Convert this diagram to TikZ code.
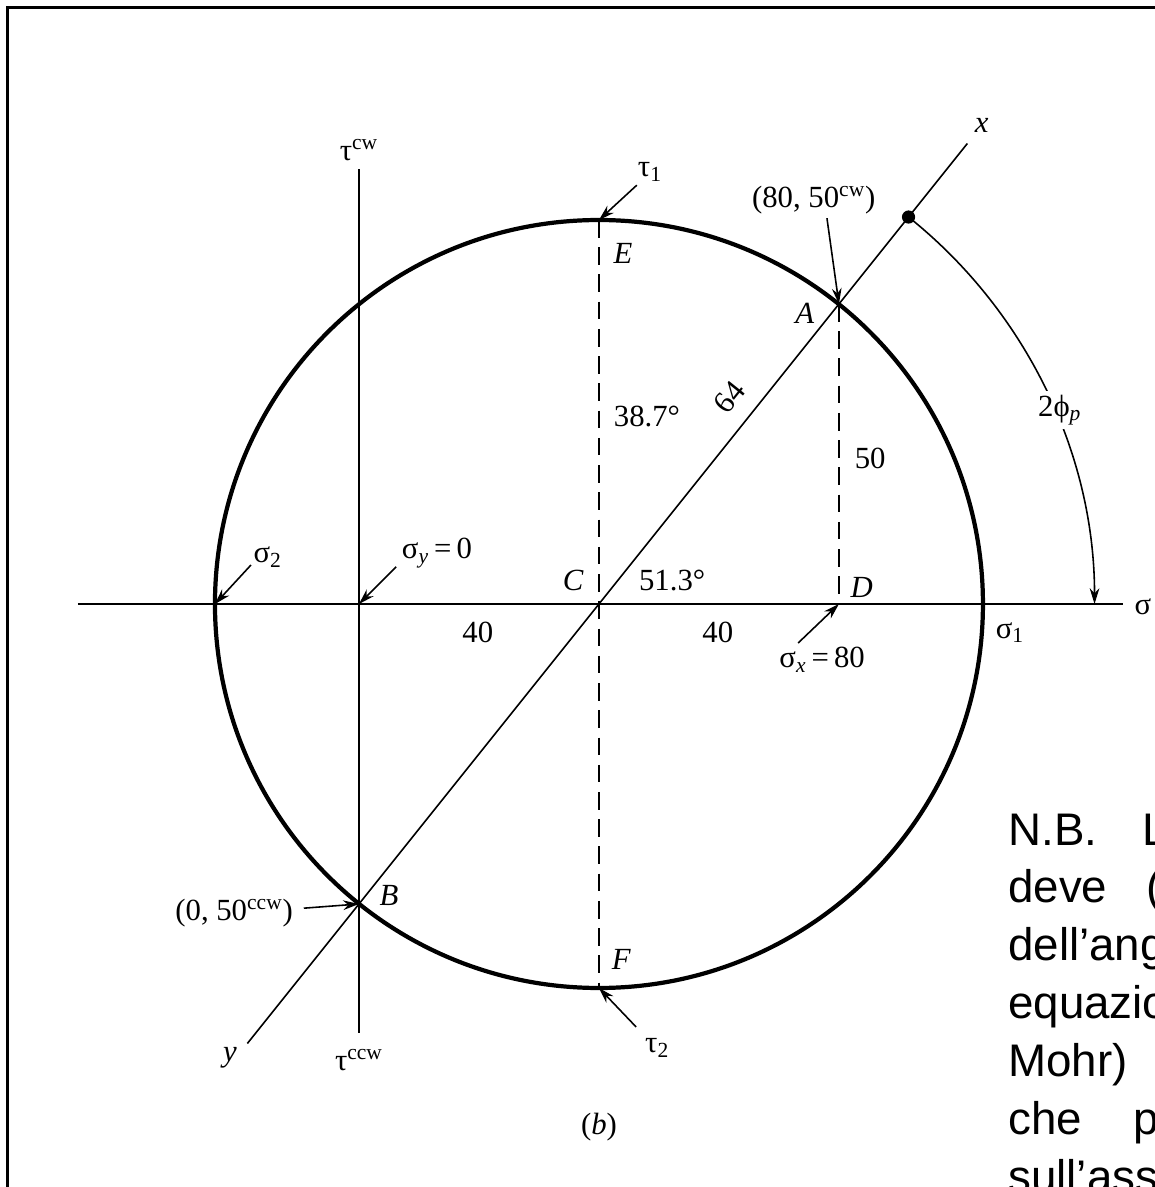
\documentclass[tikz,border=0pt]{standalone}
\usepackage{fontspec}
\setmainfont{Liberation Serif}
\newfontfamily\notefont{Liberation Sans}
\usetikzlibrary{arrows.meta}
\newcommand{\mohrsize}{\fontsize{17.5}{20}\selectfont}
\newcommand{\notesize}{\notefont\fontsize{26}{31}\selectfont}

\begin{document}
\begin{tikzpicture}[x=0.12cm, y=0.12cm,
  axis/.style={line width=0.9pt},
  mohr/.style={line width=2.4pt},
  guide/.style={line width=0.9pt, dash pattern=on 10pt off 5.5pt},
  pointer/.style={-{Stealth[length=9pt, width=5.5pt]}, line width=0.9pt},
  lbl/.style={font=\mohrsize, inner sep=1pt},
  ptlbl/.style={font=\mohrsize\itshape, inner sep=1pt},
  note/.style={font=\notesize, anchor=base west, inner sep=0pt}
]
\useasboundingbox (-99.83,-97.17) rectangle (92.67,100.67);
\clip (-99.83,-97.17) rectangle (92.67,100.67);

% frame
\draw[line width=1.7pt] (-98.58,-99) |- (94,99.42);

% points
\coordinate (C) at (0,0);
\coordinate (A) at (40,50);
\coordinate (B) at (-40,-50);
\coordinate (D) at (40,0);
\coordinate (E) at (0,64);
\coordinate (F) at (0,-64);
\coordinate (S2) at (-64,0);
\coordinate (Sy) at (-40,0);
\coordinate (P) at (51.34:82.6);
\coordinate (sigL) at (-86.83,0);
\coordinate (sigR) at (87.33,0);
\coordinate (tauT) at (-40,72.5);
\coordinate (tauB) at (-40,-71.5);
\coordinate (xend) at (61.4,76.75);
\coordinate (yend) at (-58.6,-73.25);

% axes, circle, construction lines
\draw[axis] (sigL) -- (sigR);
\draw[axis] (tauT) -- (tauB);
\draw[axis] (yend) -- (xend);
\draw[mohr] (C) circle[radius=64];
\draw[guide] (E) -- (F);
\draw[guide] (A) -- (D);
\fill (P) circle[radius=1.1];
\draw[pointer] (P) arc[start angle=51.34, end angle=0, radius=82.6];

% labels
\node[lbl] (sig) at (90.67,-0.5) {σ};
\node[lbl] (taucw) at (-40,75.7) {τ\textsuperscript{cw}};
\node[lbl] (tauccw) at (-40,-76) {τ\textsuperscript{ccw}};
\node[ptlbl] (xlbl) at (63.8,79.8) {x};
\node[ptlbl] (ylbl) at (-61.5,-75.7) {y};
\node[lbl, fill=white, inner sep=2pt] (phi) at (76.8,32.3) {2ϕ\textsubscript{\itshape p}};
\node[lbl] (tau1) at (8.5,72) {τ\textsubscript{1}};
\node[lbl] (tau2) at (9.7,-74) {τ\textsubscript{2}};
\node[ptlbl] (Elbl) at (4,58.5) {E};
\node[ptlbl] (Flbl) at (3.7,-59.3) {F};
\node[ptlbl] (Albl) at (34.3,48.5) {A};
\node[ptlbl] (Blbl) at (-35,-48.5) {B};
\node[ptlbl] (Clbl) at (-4.3,4) {C};
\node[ptlbl] (Dlbl) at (43.8,2.8) {D};
\node[lbl] (ptA) at (35.8,67.3) {(80, 50\textsuperscript{cw})};
\node[lbl] (ptB) at (-60.8,-51.5) {(0, 50\textsuperscript{ccw})};
\node[lbl, rotate=51.3] (rad) at (21.8,34.5) {64};
\node[lbl] (ang1) at (8,31.2) {38.7°};
\node[lbl] (ang2) at (12.2,4) {51.3°};
\node[lbl] (fifty) at (45.2,24.3) {50};
\node[lbl] (fortyL) at (-20.2,-4.7) {40};
\node[lbl] (fortyR) at (19.8,-4.7) {40};
\node[lbl] (sig1) at (68.5,-4.8) {σ\textsubscript{1}};
\node[lbl] (sig2) at (-55.2,7.8) {σ\textsubscript{2}};
\node[lbl] (sigy) at (-27,8.5) {σ\textsubscript{\itshape y}\,=\,0};
\node[lbl] (sigx) at (37.2,-9.3) {σ\textsubscript{\itshape x}\,=\,80};
\node[lbl] (cap) at (0,-87.2) {(\textit{b})};

% pointer arrows
\coordinate (t1tail) at (6.3,69.8);
\coordinate (t2tail) at (6.2,-70.5);
\coordinate (Atail) at (38,64.3);
\coordinate (Btail) at (-49.2,-50.7);
\coordinate (s2tail) at (-58,6.5);
\coordinate (sytail) at (-33.8,6.2);
\coordinate (sxtail) at (33.2,-6.5);
\draw[pointer] (t1tail) -- (E);
\draw[pointer] (t2tail) -- (F);
\draw[pointer] (Atail) -- (A);
\draw[pointer] (Btail) -- (B);
\draw[pointer] (s2tail) -- (S2);
\draw[pointer] (sytail) -- (Sy);
\draw[pointer] (sxtail) -- (D);

% note
\foreach \txt [count=\i from 0] in {{N.B.\hspace{26pt}L}, {deve\hspace{22pt}(}, {dell’ang}, {equazio}, {Mohr)}, {che\hspace{29.6pt}p}, {sull’ass}}
  \node[note] (nb\i) at (68.17,-40.17-9.64*\i) {\txt};

\end{tikzpicture}
\end{document}
